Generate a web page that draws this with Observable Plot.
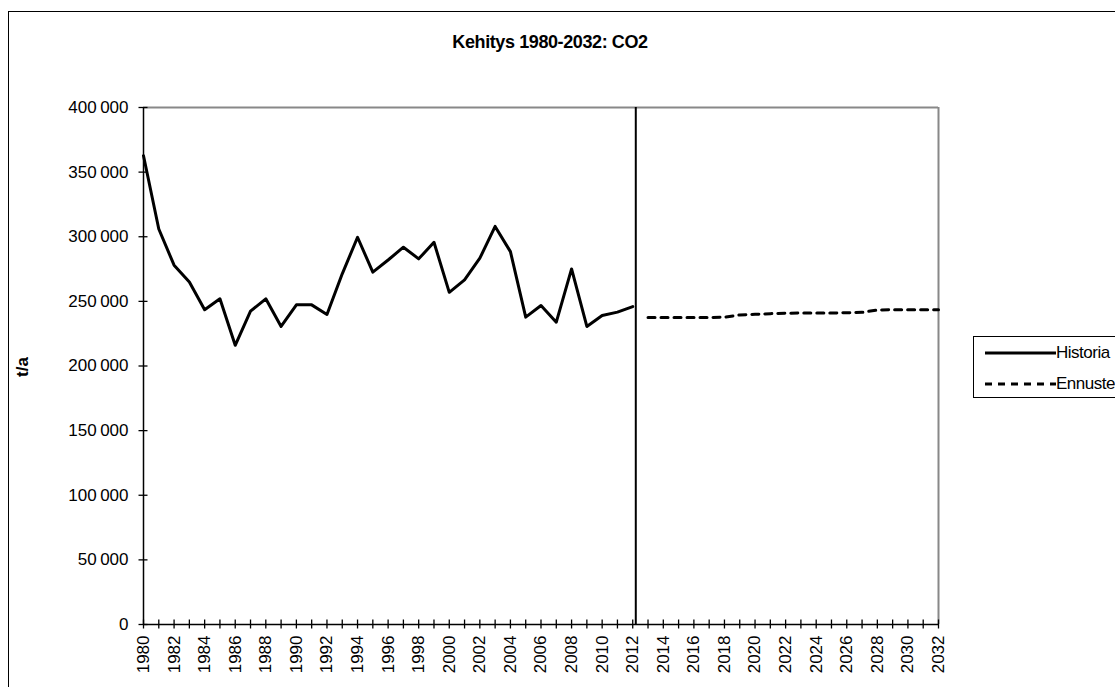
<!DOCTYPE html>
<html><head><meta charset="utf-8">
<script src="https://cdn.jsdelivr.net/npm/d3@7"></script>
<script src="https://cdn.jsdelivr.net/npm/@observablehq/plot@0.6"></script>
<style>
body{margin:0;background:#fff;}
#wrap{position:relative;width:1115px;height:687px;overflow:hidden;font-family:"Liberation Sans",Arial,sans-serif;color:#000;}
#border{position:absolute;left:8px;top:11px;width:1140px;height:760px;border:1.5px solid #000;box-sizing:border-box;}
#title{position:absolute;left:0px;width:1100px;top:32px;text-align:center;font-weight:bold;font-size:18px;letter-spacing:-0.4px;}
#ylab{position:absolute;left:23px;top:367px;transform:translate(-50%,-50%) rotate(-90deg);font-weight:bold;font-size:17px;}
#chart{position:absolute;left:0;top:0;}
#legend{position:absolute;left:973px;top:336px;width:170px;height:62px;border:1.5px solid #000;box-sizing:border-box;background:#fff;}
.li{position:absolute;left:0;height:20px;width:170px;}
.li span{position:absolute;left:82px;top:0;font-size:17px;line-height:20px;letter-spacing:-0.5px;}
.li svg{position:absolute;left:11px;top:0;}
</style></head>
<body><div id="wrap">
<div id="border"></div>
<div id="chart"></div>
<div id="title">Kehitys 1980-2032: CO2</div>
<div id="ylab">t/a</div>
<div id="legend"></div>
</div>
<script>
const historyYears = [1980,1981,1982,1983,1984,1985,1986,1987,1988,1989,1990,1991,1992,1993,1994,1995,1996,1997,1998,1999,2000,2001,2002,2003,2004,2005,2006,2007,2008,2009,2010,2011,2012];
const historia = [362700,306000,278000,265000,243500,252000,216000,242400,252000,230600,247300,247300,239900,271300,299600,272600,282000,291900,282900,295700,257000,266700,283400,308000,288500,237800,246800,233900,275100,230600,239100,241700,246000];
const forecastYears = [2013,2014,2015,2016,2017,2018,2019,2020,2021,2022,2023,2024,2025,2026,2027,2028,2029,2030,2031,2032];
const ennuste = [237500,237500,237500,237500,237500,237800,239500,240000,240500,240800,241000,241000,241000,241200,241500,243300,243500,243500,243500,243500];
const allYears = [...historyYears, ...forecastYears];
const labelYears = allYears.filter(y => y % 2 === 0);
const yTicks = [0,50000,100000,150000,200000,250000,300000,350000,400000];
const seriesNames = ["Historia","Ennuste"];
const splitYear = 2012.2;

const histData = historyYears.map((year,i)=>({year, value: historia[i]}));
const foreData = forecastYears.map((year,i)=>({year, value: ennuste[i]}));
const fmt = d => d3.format(",")(d).replace(/,/g, "\u2009");

const chart = Plot.plot({
  width: 1115, height: 687,
  marginLeft: 143, marginRight: 177, marginTop: 107, marginBottom: 63,
  style: {background: "transparent", fontFamily: "'Liberation Sans', Arial, sans-serif", fontSize: "17px", overflow: "visible"},
  x: {domain: [1980, 2032], label: null},
  y: {domain: [0, 400000], label: null},
  marks: [
    Plot.ruleY([400000], {stroke: "#888", strokeWidth: 2}),
    Plot.ruleX([2032], {stroke: "#888", strokeWidth: 2}),
    Plot.ruleX([1980], {stroke: "#000", strokeWidth: 1.5}),
    Plot.ruleY([0], {stroke: "#000", strokeWidth: 1.5}),
    Plot.ruleX([splitYear], {stroke: "#000", strokeWidth: 2}),
    Plot.axisX({ticks: allYears, tickSize: 9, dy: -4.5, tickFormat: () => "", strokeWidth: 1.3}),
    Plot.axisX({ticks: labelYears, tickSize: 0, tickRotate: -90, tickPadding: 11, tickFormat: d => String(d), fontSize: 17}),
    Plot.axisY({ticks: yTicks, tickSize: 9, dx: 4.5, tickFormat: () => "", strokeWidth: 1.3}),
    Plot.axisY({ticks: yTicks, tickSize: 0, tickPadding: 15, tickFormat: fmt, fontSize: 17}),
    Plot.line(histData, {x: "year", y: "value", stroke: "#000", strokeWidth: 3}),
    Plot.line(foreData, {x: "year", y: "value", stroke: "#000", strokeWidth: 3, strokeDasharray: "7,6"})
  ]
});
document.getElementById("chart").appendChild(chart);

const legend = document.getElementById("legend");
seriesNames.forEach((name, i) => {
  const d = document.createElement("div");
  d.className = "li";
  d.style.top = (i === 0 ? 6 : 37) + "px";
  d.innerHTML = `<svg width="72" height="20"><line x1="0" x2="71" y1="10" y2="10" stroke="#000" stroke-width="3" ${i===1?'stroke-dasharray="7,6"':''}/></svg><span>${name}</span>`;
  legend.appendChild(d);
});
</script>
</body></html>
